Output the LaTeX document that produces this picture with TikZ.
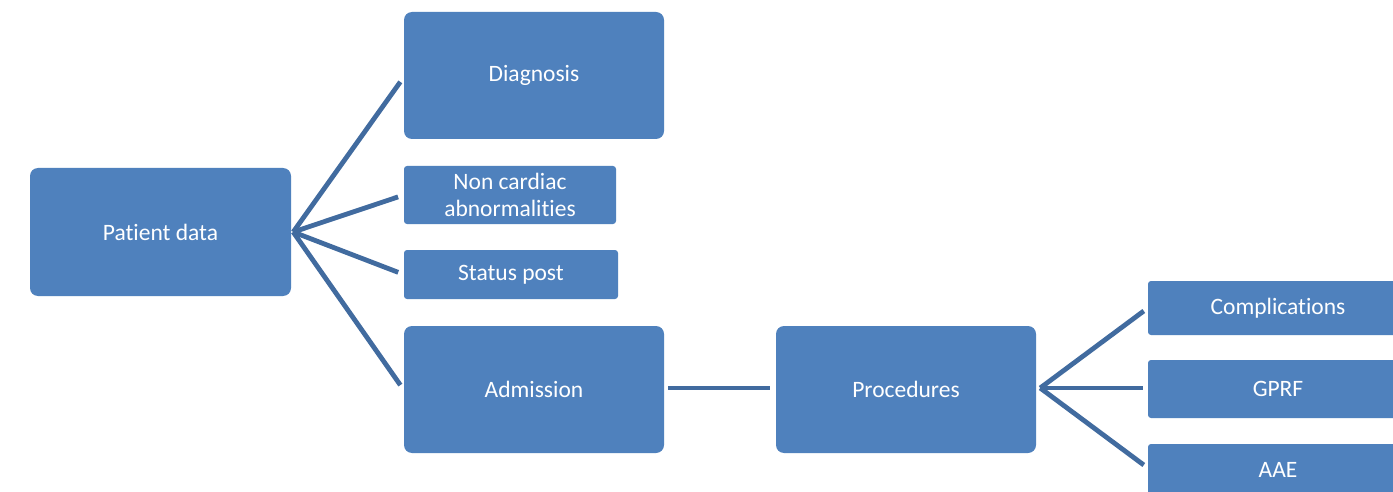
\documentclass[tikz,border=0pt]{standalone}
\usepackage{fontspec}
\setmainfont{Carlito}[Ligatures=NoCommon, RawFeature={-calt;-dlig}]
\usetikzlibrary{calc}
\definecolor{boxblue}{HTML}{4F81BD}
\definecolor{lineblue}{HTML}{416B9F}
\tikzset{
  box/.style={fill=boxblue, draw=none, text=white, align=center,
    font=\fontsize{23.5}{27}\selectfont, inner sep=0pt, rounded corners=8pt},
  smallbox/.style={box, rounded corners=3pt},
  conn/.style={draw=lineblue, line width=4.8pt, line cap=butt},
}
\begin{document}
\begin{tikzpicture}[x=1pt,y=-1pt]
\useasboundingbox (0,0) rectangle (1393,492);
\clip (0,0) rectangle (1393,492);
\fill[white] (0,0) rectangle (1393,492);
\node[box, minimum width=261pt, minimum height=128pt] (pd) at (160.5,232) {Pat\kern0pt ient data};
\node[box, minimum width=260pt, minimum height=127pt] (diag) at (534,75.5) {Diagnosis};
\node[smallbox, minimum width=212pt, minimum height=58pt] (nc) at (510,195) {Non cardiac\\abnormalit\kern0pt ies};
\node[smallbox, minimum width=214pt, minimum height=49pt] (sp) at (511,274.5) {Status post};
\node[box, minimum width=260pt, minimum height=127pt] (adm) at (534,389.5) {Admission};
\node[box, minimum width=260pt, minimum height=127pt] (proc) at (906,389.5) {Procedures};
\node[smallbox, minimum width=260pt, minimum height=54pt] (comp) at (1278,308) {Complicat\kern0pt ions};
\node[smallbox, minimum width=260pt, minimum height=58pt] (gprf) at (1278,389) {GPRF};
\node[smallbox, minimum width=260pt, minimum height=52pt] (aae) at (1278,470) {AAE};
\coordinate (pdx) at ($(pd.east)+(2,0)$);
\coordinate (procx) at ($(proc.east)+(4,-1.5)$);
\draw[conn, shorten >=6pt] (pdx) -- ($(diag.west)+(0,1.5)$);
\draw[conn, shorten >=6pt] (pdx) -- (nc.west);
\draw[conn, shorten >=6pt] (pdx) -- (sp.west);
\draw[conn, shorten >=6pt] (pdx) -- ($(adm.west)+(0,0.5)$);
\draw[conn, shorten <=4pt, shorten >=6pt] ($(adm.east)+(0,-1.5)$) -- ($(proc.west)+(0,-1.5)$);
\draw[conn, shorten >=5pt] (procx) -- (comp.west);
\draw[conn, shorten >=5pt] (procx) -- ($(gprf.west)+(0,-1)$);
\draw[conn, shorten >=5pt] (procx) -- ($(aae.west)+(0,-2)$);
\end{tikzpicture}
\end{document}
